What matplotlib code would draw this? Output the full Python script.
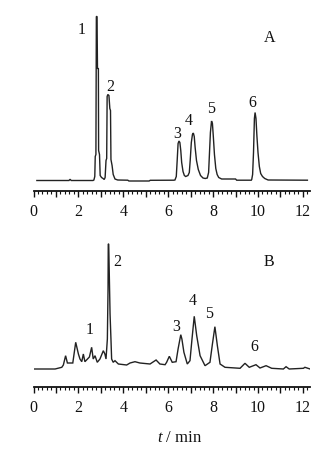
import matplotlib
matplotlib.use("Agg")
import matplotlib.pyplot as plt
from matplotlib.ticker import MultipleLocator

plt.rcParams['font.family'] = ['Liberation Serif', 'DejaVu Serif']
plt.rcParams['mathtext.fontset'] = 'custom'
plt.rcParams['mathtext.it'] = 'Liberation Serif:italic'
plt.rcParams['mathtext.rm'] = 'Liberation Serif'

# ---- data: chromatogram A (standards) ----
tA = [0.15, 1.58, 1.63, 1.68, 2.65, 2.69, 2.73, 2.75, 2.78, 2.80, 2.83, 2.85, 2.89, 2.90,
      2.94, 2.97, 3.03, 3.10, 3.15, 3.19, 3.23, 3.26, 3.28, 3.31, 3.36, 3.40, 3.43, 3.45,
      3.50, 3.55, 3.63, 3.75, 4.20, 4.25, 5.15, 5.20, 6.25, 6.30, 6.36, 6.40, 6.44, 6.48,
      6.52, 6.56, 6.60, 6.66, 6.72, 6.78, 6.88, 6.94, 6.98, 7.03, 7.08, 7.12, 7.16, 7.20,
      7.26, 7.34, 7.44, 7.55, 7.65, 7.74, 7.80, 7.84, 7.88, 7.93, 7.97, 8.01, 8.06, 8.12,
      8.18, 8.25, 8.38, 9.00, 9.05, 9.70, 9.72, 9.76, 9.80, 9.84, 9.87, 9.91, 9.95, 10.00,
      10.06, 10.12, 10.20, 10.30, 10.45, 12.20]
sA = [0, 0, 1.2, 0, 0, 0.5, 4, 24, 26, 164, 164, 112, 112, 30,
      26, 5, 3, 2, 1, 3, 20, 22, 84, 86, 85, 72, 70, 21,
      15, 6, 1.5, 0.5, 0.3, -0.5, -0.5, 0.2, 0.3, 0.5, 4, 20, 37, 39.5,
      38, 30, 18, 9, 5, 4, 5, 8, 20, 38, 46, 47.5, 44, 33,
      20, 11, 5, 2.5, 2, 2.5, 8, 28, 48, 59.5, 57, 44, 26, 12,
      6, 3, 1.5, 1.5, 0.3, 0.3, 1, 6, 28, 62, 68, 62, 45, 28,
      14, 7, 4, 2, 0.5, 0.3]

# ---- data: chromatogram B (sample) ----
tB = [0.04, 0.96, 1.26, 1.33, 1.43, 1.51, 1.75, 1.88, 2.00, 2.07, 2.15, 2.22, 2.29, 2.49,
      2.59, 2.66, 2.74, 2.84, 2.96, 3.11, 3.18, 3.23, 3.29, 3.32, 3.33, 3.35, 3.41, 3.45,
      3.48, 3.55, 3.63, 3.78, 4.15, 4.30, 4.52, 4.74, 5.19, 5.46, 5.63, 5.86, 5.93, 6.05,
      6.18, 6.35, 6.44, 6.56, 6.61, 6.70, 6.85, 6.97, 7.06, 7.16, 7.27, 7.42, 7.64, 7.86,
      7.97, 8.08, 8.19, 8.31, 8.53, 9.20, 9.42, 9.61, 9.91, 10.09, 10.36, 10.61, 11.13,
      11.25, 11.39, 12.02, 12.09, 12.32]
sB = [0, 0, 1.7, 4, 13.3, 6, 6, 26.7, 15, 10, 7.3, 15, 7.3, 12,
      21.7, 10, 13.3, 6.7, 10, 18.3, 15, 10, 30, 80, 125, 125, 55, 30,
      10, 6.7, 8.3, 5, 4, 6, 7.3, 6, 5, 9, 5, 4.3, 6.7, 12.7,
      6.7, 7.3, 20, 34.3, 30, 16.7, 5, 8.3, 30, 52.7, 33.3, 13.3, 3.3, 6.7,
      25, 42.3, 23.3, 5, 1.7, 0.7, 5.7, 1.7, 4.3, 1, 3.3, 0.7, 0,
      2.3, 0, 0.7, 1.7, 0]

peak_labels = ['1', '2', '3', '4', '5', '6']
labA_t = [2.15, 3.41, 6.38, 6.93, 7.91, 9.75]
labA_s = [151.5, 94.2, 47.5, 60.5, 72.2, 78.8]
labB_t = [2.49, 3.73, 6.35, 7.09, 7.83, 9.82]
labB_s = [40, 108.3, 43.3, 69.3, 56, 22.7]

xticks = list(range(0, 13))
xticklabels = ['0', '', '2', '', '4', '', '6', '', '8', '', '10', '', '12']

W, H = 334, 456
fig = plt.figure(figsize=(W / 100, H / 100), dpi=100)

def px_axes(left, top, right, bottom):
    return fig.add_axes([left / W, 1 - bottom / H, (right - left) / W, (bottom - top) / H])

left_px = 33.5
right_px = 33.5 + 12.3 * 22.45

axA = px_axes(left_px, 10, right_px, 192)
axB = px_axes(left_px, 240, right_px, 388)

line_color = '#222222'
fs = 11.5

for ax, t, s, lt, ls, name, ylim, nameypos in [
        (axA, tA, sA, labA_t, labA_s, 'A', (-10.5, 171.5), 143.2),
        (axB, tB, sB, labB_t, labB_s, 'B', (-18, 130), 108.3)]:
    ax.plot(t, s, color=line_color, lw=1.0, solid_joinstyle='miter')
    ax.set_xlim(0, 12.3)
    ax.set_ylim(*ylim)
    for sp in ['left', 'right', 'top']:
        ax.spines[sp].set_visible(False)
    ax.spines['bottom'].set_linewidth(1.3)
    ax.spines['bottom'].set_color('#111111')
    ax.set_yticks([])
    ax.set_xticks(xticks)
    ax.set_xticklabels(xticklabels, fontsize=fs)
    ax.xaxis.set_minor_locator(MultipleLocator(0.2))
    ax.tick_params(axis='x', which='major', direction='out', length=4, width=1.0, pad=5,
                   colors='#111111')
    ax.tick_params(axis='x', which='minor', direction='out', length=2, width=0.8,
                   colors='#111111')
    ax.patch.set_visible(False)
    for lab, x, y in zip(peak_labels, lt, ls):
        ax.text(x, y, lab, ha='center', va='center', fontsize=fs, color='#111111')
    ax.text(10.5, nameypos, name, ha='center', va='center', fontsize=fs, color='#111111')

fig.text(180 / W, 1 - 438 / H, '$t$ / min', ha='center', va='center', fontsize=fs + 0.5,
         color='#111111')

fig.savefig('out.png', dpi=100, facecolor='white')
